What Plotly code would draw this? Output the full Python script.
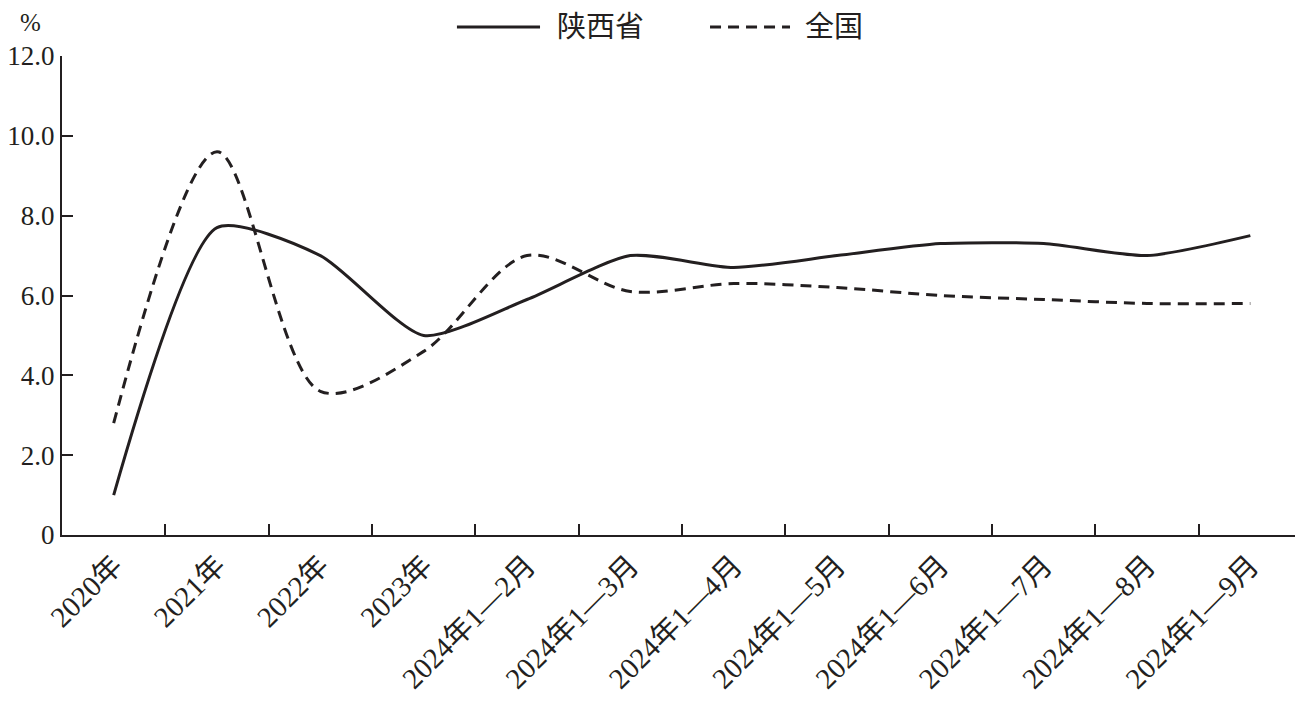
import plotly.graph_objects as go

categories = ["2020年", "2021年", "2022年", "2023年",
              "2024年1—2月", "2024年1—3月", "2024年1—4月", "2024年1—5月",
              "2024年1—6月", "2024年1—7月", "2024年1—8月", "2024年1—9月"]
shaanxi = [1.0, 7.7, 7.0, 5.0, 5.9, 7.0, 6.7, 7.0, 7.3, 7.3, 7.0, 7.5]
national = [2.8, 9.6, 3.6, 4.6, 7.0, 6.1, 6.3, 6.2, 6.0, 5.9, 5.8, 5.8]
ytick_vals = [0, 2, 4, 6, 8, 10, 12]
ytick_text = ["0", "2.0", "4.0", "6.0", "8.0", "10.0", "12.0"]
series_names = ["陕西省", "全国"]

INK = "#231f20"
FONT = "Liberation Serif, Times New Roman, Noto Sans CJK SC, serif"
DASH = "11px,7px"

fig = go.Figure()
fig.add_trace(go.Scatter(x=categories, y=shaanxi, name=series_names[0], mode="lines",
                         line=dict(color=INK, width=3, shape="spline", smoothing=0.65)))
fig.add_trace(go.Scatter(x=categories, y=national, name=series_names[1], mode="lines",
                         line=dict(color=INK, width=3, shape="spline", smoothing=0.9,
                                   dash=DASH)))

# manual legend (paper coordinates, above the plot area)
ly = 1.0605
fig.add_shape(type="line", xref="paper", yref="paper", x0=0.3185, x1=0.3855, y0=ly, y1=ly,
              line=dict(color=INK, width=3))
fig.add_shape(type="line", xref="paper", yref="paper", x0=0.5226, x1=0.5871, y0=ly, y1=ly,
              line=dict(color=INK, width=3, dash=DASH))

fig.update_layout(
    width=1295, height=698,
    margin=dict(l=54, r=1, t=48, b=171),
    paper_bgcolor="white", plot_bgcolor="white",
    font=dict(family=FONT, size=29, color=INK),
    showlegend=False,
    xaxis=dict(type="category", range=[-0.5, 11.5], tickson="boundaries", ticks="inside",
               ticklen=11, tickwidth=1.5, tickcolor=INK, showline=True, linecolor=INK,
               linewidth=2, showgrid=False, tickangle=-45, tickfont=dict(size=29),
               zeroline=False, automargin=False),
    yaxis=dict(range=[0, 12], tickvals=ytick_vals, ticktext=ytick_text,
               ticks="inside", ticklen=11, tickwidth=1.5, tickcolor=INK,
               showline=True, linecolor=INK, linewidth=2, showgrid=False,
               zeroline=False, tickfont=dict(size=27), automargin=False),
    annotations=[
        dict(text="%", xref="paper", yref="paper", x=-0.0258, y=1.069,
             xanchor="center", yanchor="middle", showarrow=False,
             font=dict(size=25, family=FONT)),
        dict(text=series_names[0], xref="paper", yref="paper", x=0.3976, y=ly,
             xanchor="left", yanchor="middle", showarrow=False, font=dict(size=29)),
        dict(text=series_names[1], xref="paper", yref="paper", x=0.5976, y=ly,
             xanchor="left", yanchor="middle", showarrow=False, font=dict(size=29)),
    ],
)

fig.write_html("out.html")
